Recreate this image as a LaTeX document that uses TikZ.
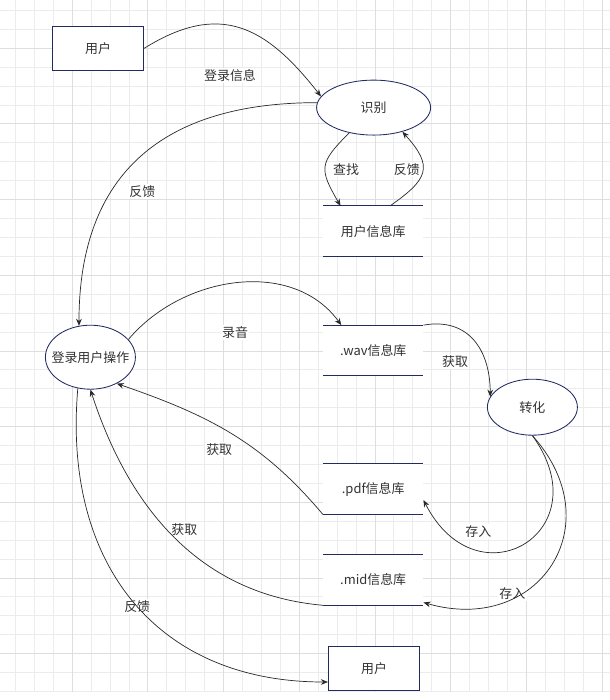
\documentclass[tikz,border=0pt]{standalone}
\usepackage{fontspec}
\setmainfont{Noto Sans CJK SC}
\usetikzlibrary{shapes.geometric,arrows.meta,positioning}
\definecolor{nodenavy}{RGB}{33,42,97}
\definecolor{gridminor}{RGB}{236,236,236}
\definecolor{gridmajor}{RGB}{222,222,222}
\definecolor{textgray}{RGB}{51,51,51}
\definecolor{flowgray}{RGB}{40,40,40}

\begin{document}
\begin{tikzpicture}[
  font=\fontsize{9.2}{11}\selectfont, text=textgray,
  ent/.style={draw=nodenavy, fill=white, rectangle, line width=0.7pt, minimum width=2.28cm, minimum height=1.12cm},
  proc/.style={draw=nodenavy, fill=white, ellipse, line width=0.6pt, inner xsep=-6pt},
  store/.style={fill=white, rectangle, minimum width=2.5cm, minimum height=1.25cm},
  lbl/.style={fill=white, inner sep=1pt},
  flow/.style={draw=flowgray, line width=0.5pt, -{Stealth[length=5pt,width=4pt]}},
]
\useasboundingbox (0,0) rectangle (15.25,-17.5);
% grid
\foreach \i in {0,...,31} \draw[gridminor, line width=0.5pt] ({0.385+0.473*\i},0) -- ++(0,-17.29);
\foreach \j in {0,...,36} \draw[gridminor, line width=0.5pt] (0,{-0.2575-0.473*\j}) -- ++(15.25,0);
\foreach \i in {3,7,...,31} \draw[gridmajor, line width=0.5pt] ({0.385+0.473*\i},0) -- ++(0,-17.29);
\foreach \j in {2,6,...,34} \draw[gridmajor, line width=0.5pt] (0,{-0.2575-0.473*\j}) -- ++(15.25,0);

\node[ent] (user1) at (2.45,-1.21) {用户};
\node[proc, minimum width=2.85cm, minimum height=1.375cm] (recog) at (9.34,-2.69) {识别};
\node[store] (db) at (9.33,-5.78) {用户信息库};
\node[proc, minimum width=2.25cm, minimum height=1.6cm] (op) at (2.26,-8.93) {登录用户操作};
\node[store] (wav) at (9.33,-8.76) {.wav信息库};
\node[proc, minimum width=2.25cm, minimum height=1.4cm] (conv) at (13.31,-10.18) {转化};
\node[store] (pdf) at (9.33,-12.23) {.pdf信息库};
\node[store] (mid) at (9.33,-14.50) {.mid信息库};
\node[ent, minimum height=1.1cm] (user2) at (9.35,-16.72) {用户};
\foreach \s in {db,wav,pdf,mid}
  \draw[nodenavy, line width=0.8pt] (\s.north west) -- (\s.north east) (\s.south west) -- (\s.south east);

% labels
\node[lbl] (lbllogin) at (5.75,-1.89) {登录信息};
\node[lbl] (lblback1) at (3.56,-4.79) {反馈};
\node[lbl] (lblfind) at (8.65,-4.25) {查找};
\node[lbl] (lblback2) at (10.17,-4.25) {反馈};
\node[lbl] (lblrec) at (5.875,-8.32) {录音};
\node[lbl] (lblget1) at (11.375,-9.04) {获取};
\node[lbl] (lblget2) at (5.48,-11.23) {获取};
\node[lbl] (lblget3) at (4.61,-13.23) {获取};
\node[lbl] (lblback3) at (3.43,-15.17) {反馈};
\node[lbl] (lblsave1) at (11.96,-13.29) {存入};
\node[lbl] (lblsave2) at (12.81,-14.83) {存入};

% flows
\draw[flow] (user1.east) to[out=32,in=128,looseness=1.25] (recog.168);
\draw[flow] (recog.175) to[out=180,in=90,looseness=1.2] (op.110);
\draw[flow] (recog.226) to[out=225,in=120,looseness=1.5] ([xshift=0.44cm]db.north west);
\draw[flow] ([xshift=0.42cm]db.north) to[out=35,in=312,looseness=1.6] (recog.320);
\draw[flow] (op.25) to[out=50,in=126] ([xshift=0.46cm]wav.north west);
\draw[flow] (wav.north east) to[out=10,in=90,looseness=1.2] (conv.166);
\draw[flow] (pdf.south west) to[out=130,in=341] (op.315);
\draw[flow] (mid.south west) to[out=175,in=288] (op.south);
\draw[flow] (op.248) to[out=265,in=180,looseness=1.15] ([yshift=-0.33cm]user2.west);
\draw[flow] (conv.south) to[out=306,in=297,looseness=2.4] ([yshift=-0.27cm]pdf.east);
\draw[flow] (conv.south) to[out=312,in=344,looseness=1.54] ([yshift=0.07cm]mid.south east);
\end{tikzpicture}
\end{document}
